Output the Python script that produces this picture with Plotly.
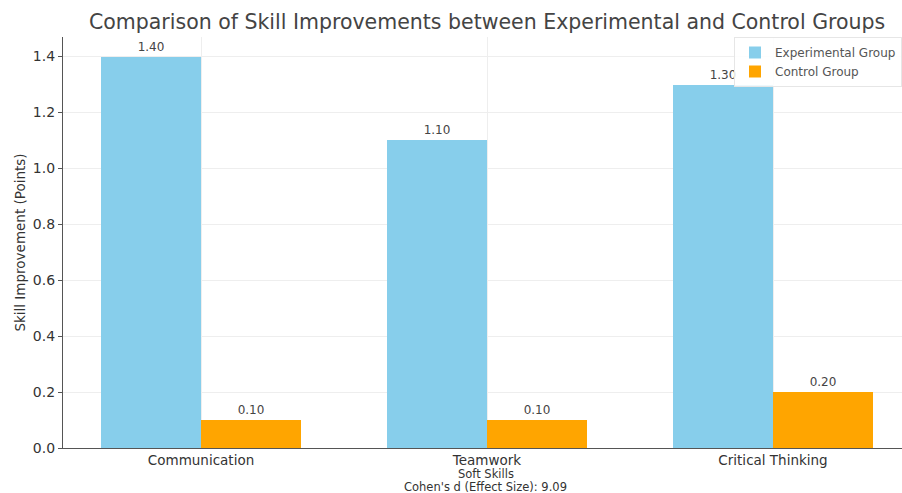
import plotly.graph_objects as go

categories = ["Communication", "Teamwork", "Critical Thinking"]
experimental = [1.40, 1.10, 1.30]
control = [0.10, 0.10, 0.20]
cohens_d = 9.09

font = "DejaVu Sans"
fig = go.Figure()
fig.add_trace(go.Bar(
    x=categories, y=experimental, name="Experimental Group",
    marker=dict(color="#87CEEB", line=dict(width=0)),
    offset=-0.35, width=0.35,
    text=[f"{v:.2f}" for v in experimental], textposition="outside",
    textfont=dict(size=12, color="#444"), cliponaxis=False,
))
fig.add_trace(go.Bar(
    x=categories, y=control, name="Control Group",
    marker=dict(color="#FFA500", line=dict(width=0)),
    offset=0, width=0.35,
    text=[f"{v:.2f}" for v in control], textposition="outside",
    textfont=dict(size=12, color="#444"), cliponaxis=False,
))

fig.update_layout(
    width=902, height=493,
    margin=dict(l=63, r=0, t=37, b=45),
    paper_bgcolor="white", plot_bgcolor="white",
    font=dict(family=font, color="#333"),
    title=dict(text="Comparison of Skill Improvements between Experimental and Control Groups",
               x=0.54, xanchor="center", y=0.955, yanchor="middle",
               font=dict(size=20.5, color="#444")),
    bargap=0, showlegend=True,
    legend=dict(x=1.0, xanchor="right", y=1.0, yanchor="top",
                bgcolor="rgba(255,255,255,0.85)", bordercolor="#e6e6e6", borderwidth=1,
                font=dict(size=12, color="#555"), tracegroupgap=0,
                itemsizing="constant"),
)
fig.update_xaxes(
    type="category", range=[-0.4825, 2.451],
    showline=True, linecolor="#555", linewidth=1.2,
    showgrid=True, gridcolor="#eeeeee", gridwidth=1,
    ticks="", tickfont=dict(size=13.5, color="#333"),
    zeroline=False,
)
fig.update_yaxes(
    range=[0, 1.47], tickvals=[0, 0.2, 0.4, 0.6, 0.8, 1.0, 1.2, 1.4],
    ticktext=["0.0", "0.2", "0.4", "0.6", "0.8", "1.0", "1.2", "1.4"],
    showline=True, linecolor="#555", linewidth=1.2,
    showgrid=True, gridcolor="#eeeeee", gridwidth=1,
    ticks="outside", ticklen=4, tickcolor="#555", tickfont=dict(size=14, color="#333"),
    zeroline=False,
    title=dict(text="Skill Improvement (Points)", font=dict(size=13.5, color="#333"), standoff=4),
)
fig.add_annotation(text="Soft Skills", xref="paper", yref="paper",
                   x=0.504, y=-0.0625, yanchor="middle", showarrow=False,
                   font=dict(size=11.5, color="#333"))
fig.add_annotation(text=f"Cohen's d (Effect Size): {cohens_d:.2f}", xref="paper", yref="paper",
                   x=0.504, y=-0.0945, yanchor="middle", showarrow=False,
                   font=dict(size=11.5, color="#333"))
fig.write_html("out.html")
